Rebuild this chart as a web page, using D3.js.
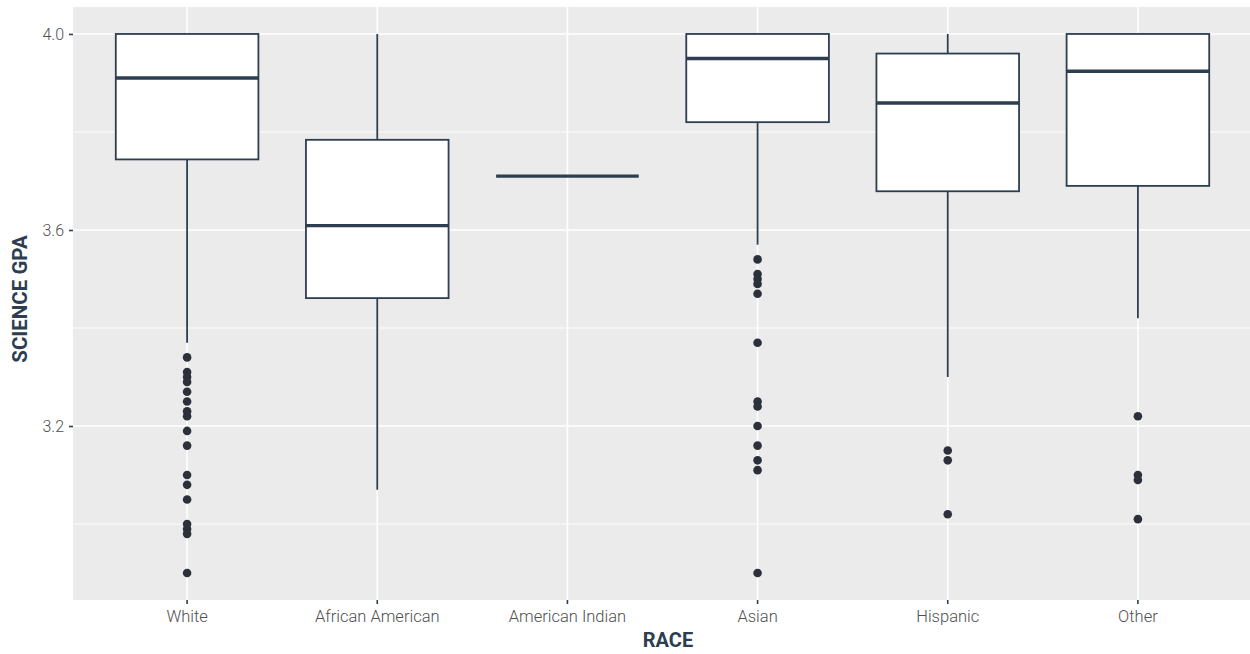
<!DOCTYPE html>
<html>
<head>
<meta charset="utf-8">
<script src="https://cdn.jsdelivr.net/npm/d3@7"></script>
<style>
  html, body { margin: 0; padding: 0; background: #ffffff; }
  svg { display: block; }
</style>
</head>
<body>
<script>
// ---- data ----
const categories = ["White", "African American", "American Indian", "Asian", "Hispanic", "Other"];
const lowerWhisker = [3.37, 3.07, 3.71, 3.57, 3.30, 3.42];
const q1 =           [3.744, 3.461, 3.71, 3.82, 3.679, 3.690];
const medians =      [3.91, 3.609, 3.71, 3.95, 3.859, 3.924];
const q3 =           [4.00, 3.784, 3.71, 4.00, 3.96, 4.00];
const upperWhisker = [4.00, 4.00, 3.71, 4.00, 4.00, 4.00];
const outliers = [
  [3.34, 3.31, 3.30, 3.29, 3.27, 3.25, 3.23, 3.22, 3.19, 3.16, 3.10, 3.08, 3.05, 3.00, 2.99, 2.98, 2.90],
  [],
  [],
  [3.54, 3.51, 3.50, 3.49, 3.47, 3.37, 3.25, 3.24, 3.20, 3.16, 3.13, 3.11, 2.90],
  [3.15, 3.13, 3.02],
  [3.22, 3.10, 3.09, 3.01]
];
const yTicks = [3.2, 3.6, 4.0];
const yMinor = [3.0, 3.4, 3.8];
const yDomain = [2.845, 4.055];

// ---- layout ----
const W = 1250, H = 654;
const panel = { left: 73, top: 7, right: 1252, bottom: 600 };
const lineColor = "#2c3e50";

const svg = d3.select("body").append("svg").attr("width", W).attr("height", H);

// ggplot discrete expansion 0.6 on each side
const step = (panel.right - panel.left) / (categories.length + 0.2);
const x = d3.scaleBand().domain(categories)
  .range([panel.left + 0.1 * step, panel.right - 0.1 * step]).padding(0);
const cx = c => x(c) + x.bandwidth() / 2;
const boxW = x.bandwidth() * 0.75;

const y = d3.scaleLinear().domain(yDomain).range([panel.bottom, panel.top]);

// clip
svg.append("defs").append("clipPath").attr("id", "pc")
  .append("rect").attr("x", panel.left).attr("y", panel.top)
  .attr("width", panel.right - panel.left).attr("height", panel.bottom - panel.top);

// background
svg.append("rect").attr("x", panel.left).attr("y", panel.top)
  .attr("width", panel.right - panel.left).attr("height", panel.bottom - panel.top)
  .attr("fill", "#ebebeb");

const g = svg.append("g").attr("clip-path", "url(#pc)");

// grid
g.selectAll(".ymin").data(yMinor).join("line")
  .attr("x1", panel.left).attr("x2", panel.right)
  .attr("y1", d => y(d)).attr("y2", d => y(d))
  .attr("stroke", "#ffffff").attr("stroke-width", 0.9);
g.selectAll(".ymaj").data(yTicks).join("line")
  .attr("x1", panel.left).attr("x2", panel.right)
  .attr("y1", d => y(d)).attr("y2", d => y(d))
  .attr("stroke", "#ffffff").attr("stroke-width", 1.6);
g.selectAll(".xmaj").data(categories).join("line")
  .attr("x1", d => cx(d)).attr("x2", d => cx(d))
  .attr("y1", panel.top).attr("y2", panel.bottom)
  .attr("stroke", "#ffffff").attr("stroke-width", 1.6);

// boxplots
const idx = d3.range(categories.length);
g.selectAll(".wup").data(idx).join("line")
  .attr("x1", i => cx(categories[i])).attr("x2", i => cx(categories[i]))
  .attr("y1", i => y(q3[i])).attr("y2", i => y(upperWhisker[i]))
  .attr("stroke", lineColor).attr("stroke-width", 1.8);
g.selectAll(".wlo").data(idx).join("line")
  .attr("x1", i => cx(categories[i])).attr("x2", i => cx(categories[i]))
  .attr("y1", i => y(q1[i])).attr("y2", i => y(lowerWhisker[i]))
  .attr("stroke", lineColor).attr("stroke-width", 1.8);
g.selectAll(".box").data(idx).join("rect")
  .attr("x", i => cx(categories[i]) - boxW / 2)
  .attr("width", boxW)
  .attr("y", i => y(q3[i]))
  .attr("height", i => Math.max(0, y(q1[i]) - y(q3[i])))
  .attr("fill", "#ffffff").attr("stroke", lineColor).attr("stroke-width", 1.8);
g.selectAll(".med").data(idx).join("line")
  .attr("x1", i => cx(categories[i]) - boxW / 2)
  .attr("x2", i => cx(categories[i]) + boxW / 2)
  .attr("y1", i => y(medians[i])).attr("y2", i => y(medians[i]))
  .attr("stroke", lineColor).attr("stroke-width", 3.4);
const pts = [];
outliers.forEach((arr, i) => arr.forEach(v => pts.push({ c: categories[i], v })));
g.selectAll(".out").data(pts).join("circle")
  .attr("cx", d => cx(d.c)).attr("cy", d => y(d.v)).attr("r", 4.3)
  .attr("fill", "#2b303b");

// axes
const fontFam = "Roboto, 'Noto Sans', sans-serif";
const yAxis = svg.append("g").attr("transform", `translate(${panel.left},0)`)
  .call(d3.axisLeft(y).tickValues(yTicks).tickFormat(d3.format(".1f")).tickSize(4).tickPadding(5));
yAxis.select(".domain").remove();
yAxis.selectAll(".tick line").attr("stroke", lineColor).attr("stroke-width", 1.6);
yAxis.selectAll(".tick text").attr("fill", "#505050").attr("font-size", 16)
  .attr("font-weight", 300).attr("font-family", fontFam);

const xAxis = svg.append("g").attr("transform", `translate(0,${panel.bottom})`)
  .call(d3.axisBottom(x).tickSize(4).tickPadding(6));
xAxis.select(".domain").remove();
xAxis.selectAll(".tick line").attr("stroke", lineColor).attr("stroke-width", 1.6);
xAxis.selectAll(".tick text").attr("fill", "#505050").attr("font-size", 16.5)
  .attr("font-weight", 300).attr("font-family", fontFam);

// titles
svg.append("text").attr("x", 668).attr("y", 647)
  .attr("text-anchor", "middle").attr("font-family", fontFam)
  .attr("font-weight", "bold").attr("font-size", 20).attr("fill", lineColor)
  .text("RACE");
svg.append("text")
  .attr("transform", `translate(27,299) rotate(-90)`)
  .attr("text-anchor", "middle").attr("font-family", fontFam)
  .attr("font-weight", "bold").attr("font-size", 20.5).attr("fill", lineColor)
  .text("SCIENCE GPA");
</script>
</body>
</html>
